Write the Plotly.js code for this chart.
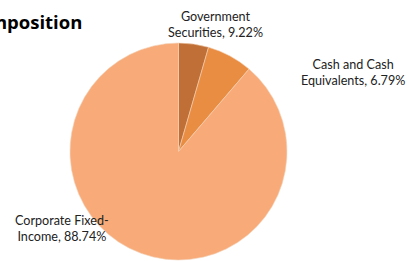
<!DOCTYPE html>
<html>
<head>
<meta charset="utf-8">
<script src="https://cdn.plot.ly/plotly-3.0.1.min.js"></script>
<style>html,body{margin:0;padding:0;background:#fff;}#chart{width:409px;height:261px;}</style>
</head>
<body>
<div id="chart"></div>
<script>
const categories = ["Government Securities", "Cash and Cash Equivalents", "Corporate Fixed-Income"];
const values = [4.47, 6.79, 88.74];
const labelLines = [["Government", "Securities, 9.22%"], ["Cash and Cash", "Equivalents, 6.79%"], ["Corporate Fixed-", "Income, 88.74%"]];
const colors = ["#C07036", "#E98D43", "#F8AB78"];
const titleText = "Portfolio Composition";

const W = 409, H = 261;
const labelPos = [[215, 24], [353, 72], [62, 228]];

const annotations = labelLines.map((lines, i) => ({
  xref: "paper", yref: "paper",
  x: labelPos[i][0] / W, y: 1 - labelPos[i][1] / H,
  xanchor: "center", yanchor: "middle",
  text: lines.join("<br>"), showarrow: false, align: "center",
  font: {family: "Lato, 'Liberation Sans', sans-serif", size: 12.6, color: "#222"}
}));
annotations.push({
  xref: "paper", yref: "paper", x: 84 / W, y: 1 - 21 / H,
  xanchor: "right", yanchor: "middle", showarrow: false,
  text: "<b>" + titleText + "</b>",
  font: {family: "'Open Sans', 'Liberation Sans', sans-serif", size: 18.5, color: "#000"}
});

Plotly.newPlot("chart", [{
  type: "pie",
  labels: categories,
  values: values,
  sort: false,
  direction: "clockwise",
  rotation: 0,
  textinfo: "none",
  hoverinfo: "none",
  marker: {colors: colors, line: {color: "#f2d2b8", width: 0.6}},
  domain: {x: [69 / W, 288 / W], y: [1 / H, 218 / H]},
  showlegend: false
}], {
  width: W, height: H,
  margin: {l: 0, r: 0, t: 0, b: 0},
  paper_bgcolor: "#fff",
  showlegend: false,
  annotations: annotations
}, {staticPlot: true, displayModeBar: false});
</script>
</body>
</html>
